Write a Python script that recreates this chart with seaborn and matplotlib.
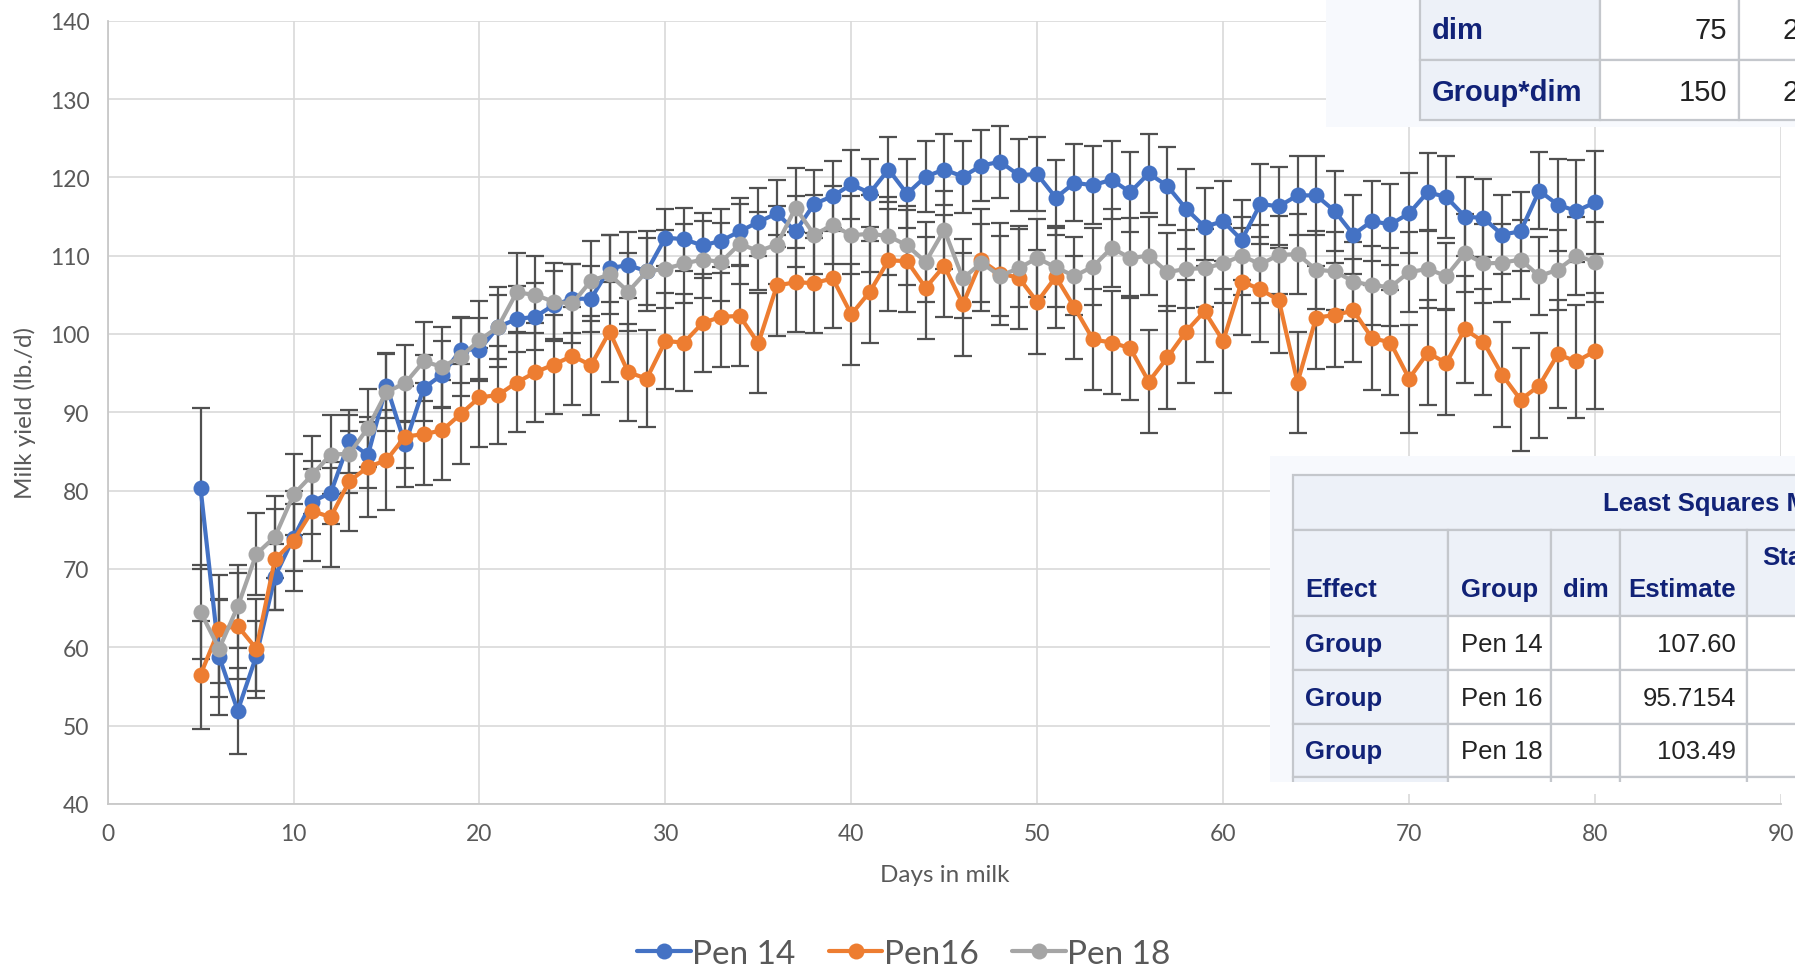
import matplotlib
matplotlib.use("Agg")
import matplotlib.pyplot as plt
from matplotlib.patches import Rectangle
import seaborn as sns
import pandas as pd

# ---------- data ----------
days = list(range(5, 81))

pen14 = [80.3, 58.8, 51.9, 58.9, 69.0, 74.0, 78.6, 79.7, 86.3, 84.5,
         93.4, 85.9, 93.1, 94.8, 98.0, 98.0, 100.9, 101.9, 102.2, 103.7,
         104.5, 104.5, 108.4, 108.8, 108.0, 112.3, 112.1, 111.3, 111.9, 113.1,
         114.3, 115.4, 113.1, 116.6, 117.6, 119.1, 118.0, 121.0, 117.9, 120.1,
         121.0, 120.1, 121.5, 122.0, 120.3, 120.4, 117.4, 119.3, 119.0, 119.7,
         118.1, 120.5, 118.9, 116.0, 113.7, 114.4, 112.0, 116.6, 116.3, 117.7,
         117.7, 115.7, 112.7, 114.4, 114.0, 115.4, 118.1, 117.5, 115.0, 114.8,
         112.7, 113.1, 118.3, 116.5, 115.7, 116.8]

pen16 = [56.5, 62.3, 62.7, 59.8, 71.2, 73.6, 77.4, 76.6, 81.2, 83.0,
         83.9, 86.9, 87.2, 87.7, 89.8, 91.9, 92.2, 93.8, 95.1, 96.1,
         97.2, 96.0, 100.3, 95.1, 94.3, 99.1, 98.9, 101.4, 102.2, 102.3,
         98.8, 106.2, 106.6, 106.5, 107.1, 102.5, 105.4, 109.4, 109.3, 105.9,
         108.7, 103.8, 109.4, 107.7, 107.2, 104.1, 107.3, 103.4, 99.3, 98.9,
         98.2, 93.9, 97.0, 100.3, 102.9, 99.1, 106.7, 105.7, 104.3, 93.8,
         102.1, 102.4, 103.0, 99.5, 98.9, 94.3, 97.6, 96.3, 100.6, 99.0,
         94.8, 91.6, 93.4, 97.4, 96.5, 97.8]

pen18 = [64.5, 59.8, 65.2, 71.9, 74.1, 79.5, 82.0, 84.6, 84.7, 88.0,
         92.6, 93.7, 96.5, 95.8, 97.1, 99.2, 100.9, 105.3, 105.0, 104.1,
         103.9, 106.8, 107.6, 105.4, 108.0, 108.3, 109.0, 109.5, 109.2, 111.5,
         110.6, 111.4, 116.1, 112.7, 113.9, 112.6, 112.8, 112.5, 111.3, 109.2,
         113.3, 107.1, 109.1, 107.4, 108.4, 109.7, 108.5, 107.4, 108.6, 111.0,
         109.7, 110.0, 107.9, 108.3, 108.4, 109.0, 110.0, 108.9, 110.1, 110.2,
         108.2, 108.0, 106.7, 106.2, 106.0, 107.9, 108.3, 107.4, 110.3, 109.0,
         109.1, 109.5, 107.4, 108.2, 110.0, 109.2]

err14 = [10.3, 7.4, 5.5, 4.5, 4.2, 4.3, 4.2, 4.0, 4.0, 4.2,
         4.1, 3.0, 4.2, 4.3, 4.2, 4.0, 4.1, 4.2, 4.3, 4.3,
         4.4, 4.2, 4.3, 4.2, 4.3, 3.6, 4.0, 4.2, 4.1, 4.3,
         4.4, 4.3, 4.5, 4.4, 4.5, 4.4, 4.3, 4.1, 4.4, 4.5,
         4.5, 4.6, 4.5, 4.6, 4.6, 4.7, 4.8, 4.9, 5.0, 5.0,
         5.1, 5.1, 5.0, 5.1, 5.0, 5.1, 5.1, 5.1, 5.0, 5.0,
         5.0, 5.1, 5.1, 5.1, 5.2, 5.1, 5.0, 5.2, 5.1, 5.0,
         5.0, 5.0, 4.9, 5.9, 6.5, 6.6]

err16 = [6.9, 6.9, 6.8, 6.3, 6.5, 6.4, 6.4, 6.3, 6.4, 6.4,
         6.4, 6.5, 6.5, 6.4, 6.4, 6.3, 6.3, 6.3, 6.3, 6.3,
         6.3, 6.3, 6.4, 6.2, 6.2, 6.1, 6.2, 6.3, 6.4, 6.4,
         6.4, 6.4, 6.4, 6.4, 6.4, 6.4, 6.5, 6.5, 6.5, 6.5,
         6.5, 6.6, 6.5, 6.5, 6.6, 6.6, 6.5, 6.6, 6.5, 6.6,
         6.6, 6.6, 6.6, 6.6, 6.5, 6.6, 6.8, 6.7, 6.7, 6.5,
         6.6, 6.6, 6.6, 6.7, 6.7, 6.9, 6.7, 6.7, 6.8, 6.8,
         6.7, 6.6, 6.7, 6.9, 7.2, 7.4]

err18 = [6.0, 6.2, 5.3, 5.2, 5.2, 5.2, 5.0, 5.1, 5.0, 5.0,
         5.0, 4.9, 5.0, 5.1, 5.0, 5.0, 5.1, 5.0, 4.9, 5.0,
         5.0, 5.1, 5.0, 5.0, 5.1, 5.0, 5.0, 4.9, 5.0, 5.1,
         5.0, 5.0, 5.1, 5.0, 5.0, 5.0, 4.9, 5.0, 5.0, 5.1,
         5.0, 5.0, 5.0, 5.1, 5.0, 5.0, 5.0, 5.0, 4.9, 5.0,
         5.1, 5.0, 5.0, 5.0, 5.0, 5.1, 5.0, 5.0, 5.0, 5.1,
         5.0, 5.0, 5.0, 5.0, 5.0, 5.1, 5.0, 4.2, 5.0, 5.0,
         5.0, 5.0, 5.0, 5.1, 5.0, 5.1]

series_names = ["Pen 14", "Pen16", "Pen 18"]
series_colors = ["#4472C4", "#ED7D31", "#A5A5A5"]

# table text
top_rows = [("dim", "75", "2"), ("Group*dim", "150", "2")]
ls_title = "Least Squares Means"
ls_header = ["Effect", "Group", "dim", "Estimate", "Standard"]
ls_effect = ["Group", "Group", "Group"]
ls_group = ["Pen 14", "Pen 16", "Pen 18"]
ls_estimate = ["107.60", "95.7154", "103.49"]

# ---------- style ----------
sns.set_style("whitegrid")
plt.rcParams["font.family"] = ["Lato", "DejaVu Sans"]
TXT = "#595959"

fig = plt.figure(figsize=(17.95, 9.70), dpi=100)
ax = fig.add_axes([0.05995, 0.1703, 0.9322, 0.80728])

for vals, errs, name, col in zip([pen14, pen16, pen18], [err14, err16, err18],
                                 series_names, series_colors):
    ax.errorbar(days, vals, yerr=errs, fmt="none", ecolor="#505050",
                elinewidth=1.6, capsize=6.5, capthick=1.6, zorder=2)

for vals, name, col in zip([pen14, pen16, pen18], series_names, series_colors):
    df = pd.DataFrame({"day": days, "yield": vals})
    sns.lineplot(data=df, x="day", y="yield", ax=ax, color=col, linewidth=3.0,
                 marker="o", markersize=11.5, markeredgewidth=0, label=name,
                 zorder=3)

ax.set_xlim(0, 90)
ax.set_ylim(40, 140)
ax.set_xticks(range(0, 91, 10))
ax.set_yticks(range(40, 141, 10))
ax.grid(True, color="#D9D9D9", linewidth=1.2)
for s in ["top", "right"]:
    ax.spines[s].set_visible(False)
for s in ["left", "bottom"]:
    ax.spines[s].set_color("#C8C8C8")
    ax.spines[s].set_linewidth(1.3)
ax.tick_params(axis="both", length=0, labelsize=16.5, labelcolor=TXT)
ax.tick_params(axis="x", pad=14)
ax.tick_params(axis="y", pad=13)
ax.set_xlabel("Days in milk", fontsize=17.5, color=TXT, labelpad=14)
ax.set_ylabel("Milk yield (lb./d)", fontsize=17.5, color=TXT, labelpad=10)

ax.get_legend().remove()
handles, labels = ax.get_legend_handles_labels()
fig.legend(handles, labels, loc="center", bbox_to_anchor=(0.5036, 0.0155),
           ncol=3, frameon=False, fontsize=24, handlelength=1.6,
           handletextpad=0.05, columnspacing=1.0, labelcolor=TXT)

# ---------- pasted SAS tables (pixel overlay) ----------
ov = fig.add_axes([0, 0, 1, 1], zorder=10)
ov.set_xlim(0, 1795)
ov.set_ylim(970, 0)
ov.axis("off")
ov.patch.set_alpha(0)

PANEL = "#F7F9FD"
HEAD = "#EDF1F8"
BORDER = "#C4C7CC"
NAVY = "#112277"
TFONT = ["Liberation Sans", "DejaVu Sans"]


def cell(x0, y0, x1, y1, face):
    ov.add_patch(Rectangle((x0, y0), x1 - x0, y1 - y0, facecolor=face,
                           edgecolor=BORDER, linewidth=1.6))


def label(x, y, s, size, bold=False, color="#222222", ha="left", va="center"):
    ov.text(x, y, s, fontsize=size, fontweight="bold" if bold else "normal",
            color=color, ha=ha, va=va, family=TFONT)


# top table
ov.add_patch(Rectangle((1326, -5), 480, 133, facecolor=PANEL, edgecolor="none"))
row_y = [(-5, 61), (61, 121)]
for (y0, y1), (eff, df_, extra) in zip(row_y, top_rows):
    cell(1420, y0, 1600, y1, HEAD)
    cell(1600, y0, 1739, y1, "white")
    cell(1739, y0, 1810, y1, "white")
    ym = (y0 + y1) / 2 + 2 if y0 > 0 else 31
    label(1432, ym, eff, 21, bold=True, color=NAVY)
    label(1727, ym, df_, 21, ha="right")
    label(1783, ym, extra, 21)

# least squares means table
ov.add_patch(Rectangle((1270, 457), 540, 326, facecolor=PANEL, edgecolor="none"))
cols = [1293, 1448, 1551, 1620, 1747, 1810]
cell(1293, 476, 1810, 531, HEAD)
label(1603, 504, ls_title, 18.5, bold=True, color=NAVY)
for i in range(5):
    cell(cols[i], 531, cols[i + 1], 617, HEAD)
hx = [1305, 1461, 1563, 1736, 1762]
for i, h in enumerate(ls_header):
    if i == 4:
        label(hx[i], 558, h, 18.5, bold=True, color=NAVY)
    elif i == 3:
        label(hx[i], 590, h, 18.5, bold=True, color=NAVY, ha="right")
    else:
        label(hx[i], 590, h, 18.5, bold=True, color=NAVY)
rows = [(617, 671), (671, 725), (725, 778)]
for (y0, y1), eff, grp, est in zip(rows, ls_effect, ls_group, ls_estimate):
    cell(cols[0], y0, cols[1], y1, HEAD)
    for i in range(1, 5):
        cell(cols[i], y0, cols[i + 1], y1, "white")
    ym = (y0 + y1) / 2 + 1
    label(1305, ym, eff, 18.5, bold=True, color=NAVY)
    label(1461, ym, grp, 18.5)
    label(1736, ym, est, 18.5, ha="right")
cell(cols[0], 778, cols[1], 790, HEAD)
for i in range(1, 5):
    cell(cols[i], 778, cols[i + 1], 790, "white")
ov.add_patch(Rectangle((1265, 783), 545, 12, facecolor="white", edgecolor="none"))

fig.savefig("out.png", dpi=100)
